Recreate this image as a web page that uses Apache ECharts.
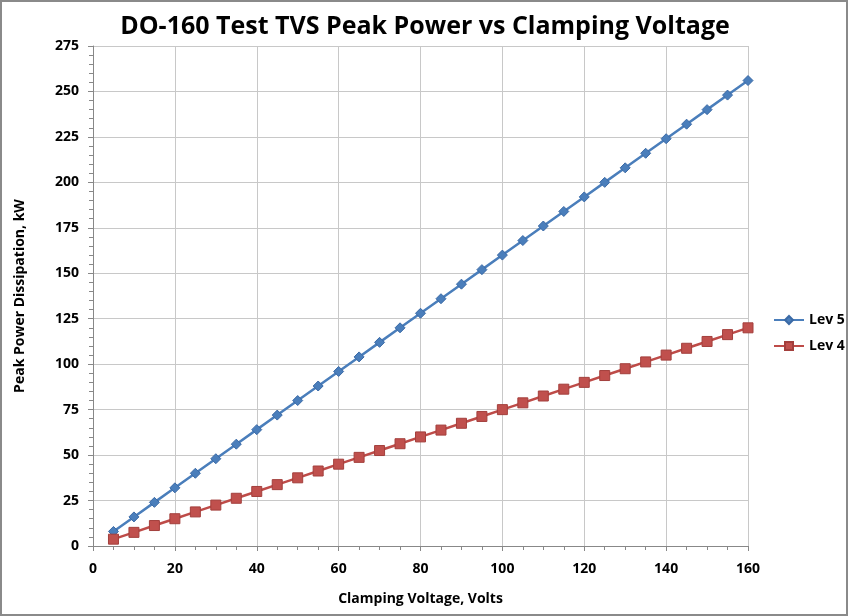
<!DOCTYPE html>
<html>
<head>
<meta charset="utf-8">
<script src="https://cdn.jsdelivr.net/npm/echarts@6/dist/echarts.min.js"></script>
<style>
html,body{margin:0;padding:0;background:#fff;}
#wrap{position:absolute;left:0;top:0;width:844px;height:612px;border:2px solid #8a8a8a;}
#chart{width:844px;height:612px;}
</style>
</head>
<body>
<div id="wrap"><div id="chart"></div></div>
<script>
const voltages = [5,10,15,20,25,30,35,40,45,50,55,60,65,70,75,80,85,90,95,100,105,110,115,120,125,130,135,140,145,150,155,160];
const lev5 = [8,16,24,32,40,48,56,64,72,80,88,96,104,112,120,128,136,144,152,160,168,176,184,192,200,208,216,224,232,240,248,256];
const lev4 = [3.75,7.5,11.25,15,18.75,22.5,26.25,30,33.75,37.5,41.25,45,48.75,52.5,56.25,60,63.75,67.5,71.25,75,78.75,82.5,86.25,90,93.75,97.5,101.25,105,108.75,112.5,116.25,120];
const seriesNames = ['Lev 5','Lev 4'];

const chart = echarts.init(document.getElementById('chart'));
const font = '"Open Sans", "Liberation Sans", sans-serif';
chart.setOption({
  animation:false,
  backgroundColor:'#fff',
  title:{
    text:'DO-160 Test TVS Peak Power vs Clamping Voltage',
    left:418, top:7, textAlign:'center',
    textStyle:{fontFamily:font, fontSize:25, fontWeight:'bold', color:'#000'}
  },
  legend:{
    orient:'vertical', left:766, top:306, itemGap:12,
    itemWidth:30, itemHeight:10,
    textStyle:{fontFamily:font, fontSize:14, fontWeight:'bold', color:'#000'},
    data:seriesNames
  },
  grid:{left:91, right:98, top:44, bottom:68},
  xAxis:{
    type:'value', min:0, max:160, interval:20,
    name:'Clamping Voltage, Volts', nameLocation:'middle', nameGap:46,
    nameTextStyle:{fontFamily:font, fontSize:14, fontWeight:'bold', color:'#000'},
    axisLine:{lineStyle:{color:'#888'}},
    axisTick:{show:true, inside:false, length:5, lineStyle:{color:'#888'}},
    minorTick:{show:true, splitNumber:4, length:4, lineStyle:{color:'#888'}},
    axisLabel:{fontFamily:font, fontSize:14, fontWeight:'bold', color:'#000', margin:16},
    splitLine:{show:true, lineStyle:{color:'#c8c8c8'}}
  },
  yAxis:{
    type:'value', min:0, max:275, interval:25,
    name:'Peak Power Dissipation, kW', nameLocation:'middle', nameGap:66,
    nameTextStyle:{fontFamily:font, fontSize:14, fontWeight:'bold', color:'#000'},
    axisLine:{show:true, lineStyle:{color:'#888'}},
    axisTick:{show:true, length:5, lineStyle:{color:'#888'}},
    minorTick:{show:true, splitNumber:5, length:4, lineStyle:{color:'#888'}},
    axisLabel:{fontFamily:font, fontSize:14, fontWeight:'bold', color:'#000', margin:14},
    splitLine:{show:true, lineStyle:{color:'#c8c8c8'}}
  },
  series:[
    {
      name:seriesNames[0], type:'line',
      data:voltages.map((v,i)=>[v,lev5[i]]),
      symbol:'diamond', symbolSize:10,
      lineStyle:{color:'#4a7ebb', width:2.5},
      itemStyle:{color:'#4a7ebb', borderColor:'#3b6aa6', borderWidth:1}
    },
    {
      name:seriesNames[1], type:'line',
      data:voltages.map((v,i)=>[v,lev4[i]]),
      symbol:'rect', symbolSize:10,
      lineStyle:{color:'#be4b48', width:2.5},
      itemStyle:{color:'#c0504d', borderColor:'#a33f3c', borderWidth:1}
    }
  ]
});
</script>
</body>
</html>
